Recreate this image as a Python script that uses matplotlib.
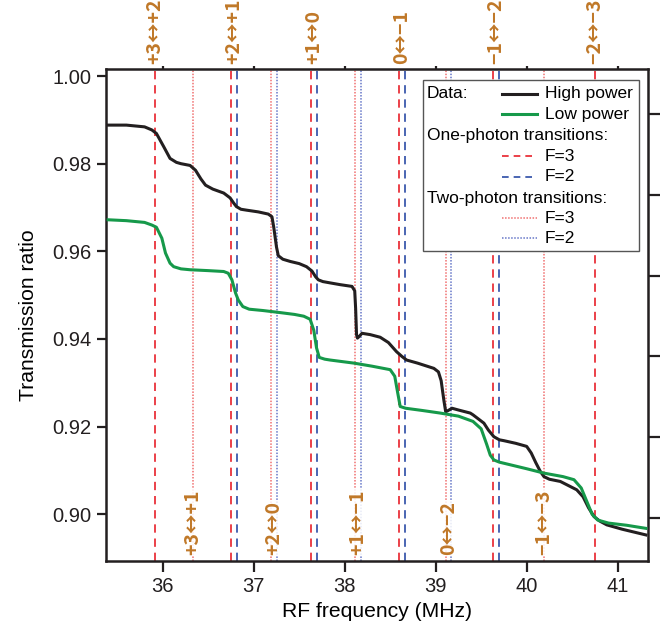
import matplotlib
matplotlib.use("Agg")
import matplotlib.pyplot as plt
from matplotlib.lines import Line2D
from matplotlib.patches import Rectangle
import matplotlib.transforms as mtransforms

plt.rcParams['font.family'] = ['Liberation Sans', 'DejaVu Sans']

# ---------------- data ----------------
hp_x = [35.39, 35.60, 35.80, 35.88, 35.93, 36.01, 36.08, 36.15, 36.20, 36.30, 36.36, 36.42,
        36.47, 36.55, 36.67, 36.74, 36.78, 36.81, 36.86, 36.92, 37.05, 37.16, 37.20, 37.22,
        37.25, 37.27, 37.32, 37.40, 37.50, 37.58, 37.64, 37.68, 37.71, 37.76, 37.84, 37.95,
        38.08, 38.11, 38.12, 38.13, 38.14, 38.16, 38.19, 38.28, 38.39, 38.48, 38.57, 38.63,
        38.68, 38.80, 38.98, 39.03, 39.06, 39.09, 39.11, 39.13, 39.18, 39.25, 39.38, 39.41,
        39.53, 39.58, 39.64, 39.70, 39.75, 39.88, 40.00, 40.05, 40.10, 40.15, 40.19, 40.25,
        40.37, 40.55, 40.62, 40.68, 40.74, 40.80, 40.88, 41.05, 41.31]
hp_y = [0.9888, 0.9888, 0.9884, 0.9877, 0.9869, 0.9839, 0.9812, 0.9803, 0.9800, 0.9796, 0.9785, 0.9765,
        0.9751, 0.9742, 0.9733, 0.9722, 0.9710, 0.9702, 0.9696, 0.9694, 0.9690, 0.9685, 0.9679, 0.9655,
        0.9610, 0.9590, 0.9582, 0.9577, 0.9572, 0.9565, 0.9555, 0.9542, 0.9535, 0.9531, 0.9528, 0.9524,
        0.9520, 0.9510, 0.9470, 0.9410, 0.9402, 0.9406, 0.9413, 0.9410, 0.9404, 0.9392, 0.9371, 0.9360,
        0.9352, 0.9345, 0.9333, 0.9325, 0.9305, 0.9260, 0.9234, 0.9236, 0.9242, 0.9238, 0.9231, 0.9227,
        0.9208, 0.9192, 0.9177, 0.9170, 0.9168, 0.9162, 0.9155, 0.9140, 0.9118, 0.9098, 0.9086, 0.9080,
        0.9075, 0.9056, 0.9040, 0.9015, 0.8995, 0.8985, 0.8976, 0.8966, 0.8953]

lp_x = [35.40, 35.60, 35.80, 35.88, 35.93, 35.99, 36.03, 36.08, 36.12, 36.20, 36.30, 36.50, 36.67,
        36.72, 36.76, 36.80, 36.83, 36.88, 36.95, 37.10, 37.30, 37.45, 37.55, 37.62, 37.66,
        37.69, 37.72, 37.78, 37.84, 38.10, 38.30, 38.50, 38.55, 38.58, 38.61, 38.67, 38.85,
        39.05, 39.25, 39.41, 39.50, 39.56, 39.60, 39.64, 39.70, 39.82, 40.00, 40.19, 40.40,
        40.52, 40.60, 40.66, 40.72, 40.78, 40.90, 41.10, 41.31]
lp_y = [0.9672, 0.9670, 0.9666, 0.9660, 0.9655, 0.9630, 0.9596, 0.9573, 0.9565, 0.9560, 0.9558, 0.9556, 0.9554,
        0.9550, 0.9535, 0.9505, 0.9489, 0.9474, 0.9468, 0.9465, 0.9460, 0.9456, 0.9452, 0.9445, 0.9420,
        0.9380, 0.9358, 0.9354, 0.9352, 0.9345, 0.9338, 0.9330, 0.9315, 0.9280, 0.9246, 0.9242, 0.9237,
        0.9231, 0.9224, 0.9212, 0.9195, 0.9160, 0.9135, 0.9124, 0.9119, 0.9113, 0.9104, 0.9094, 0.9086,
        0.9079, 0.9060, 0.9030, 0.9000, 0.8987, 0.8980, 0.8975, 0.8968]

one_photon_f3 = [35.915, 36.748, 37.631, 38.592, 39.630, 40.748]
one_photon_f2 = [36.814, 37.700, 38.658, 39.700]
two_photon_f3 = [36.330, 37.190, 38.115, 39.110, 40.190]
two_photon_f2 = [37.255, 38.175, 39.170]

top_labels = ["+3\u2194+2", "+2\u2194+1", "+1\u21940", "0\u2194\u22121", "\u22121\u2194\u22122", "\u22122\u2194\u22123"]
top_label_x = [35.915, 36.780, 37.665, 38.625, 39.665, 40.748]
bottom_labels = ["+3\u2194+1", "+2\u21940", "+1\u2194\u22121", "0\u2194\u22122", "\u22121\u2194\u22123"]
bottom_label_x = [36.330, 37.220, 38.145, 39.140, 40.190]

x_ticks = [36, 37, 38, 39, 40, 41]
y_ticks = [0.90, 0.92, 0.94, 0.96, 0.98, 1.00]
y_ticklabels = ["0.90", "0.92", "0.94", "0.96", "0.98", "1.00"]
right_ticks = [0, 1, 2, 3, 4, 5]

# ---------------- styles ----------------
c_black = '#231F20'
c_green = '#16994A'
c_red = '#E8202A'
c_blue = '#2B4BA6'
c_red_dot = '#F07070'
c_blue_dot = '#6677C8'
c_label = '#C07828'

fig = plt.figure(figsize=(6.67, 6.29), dpi=100)
ax = fig.add_axes([0.1585, 0.1086, 0.8125, 0.7812])

for xv in one_photon_f3:
    ax.axvline(xv, color=c_red, lw=1.2, ls=(0, (5, 3.5)), zorder=1)
for xv in one_photon_f2:
    ax.axvline(xv, color=c_blue, lw=1.2, ls=(0, (5, 3.5)), zorder=1)
for xv in two_photon_f3:
    ax.axvline(xv, color=c_red_dot, lw=1.1, ls=(0, (1, 1.0)), zorder=1)
for xv in two_photon_f2:
    ax.axvline(xv, color=c_blue_dot, lw=1.1, ls=(0, (1, 1.0)), zorder=1)

ax.plot(hp_x, hp_y, color=c_black, lw=2.2, zorder=3, solid_joinstyle='round')
ax.plot(lp_x, lp_y, color=c_green, lw=2.2, zorder=3, solid_joinstyle='round')

ax.set_xlim(35.373, 41.33)
ax.set_ylim(0.88942, 1.00153)
ax.set_xticks(x_ticks)
ax.set_xticklabels([str(t) for t in x_ticks])
ax.set_yticks(y_ticks)
ax.set_yticklabels(y_ticklabels)

for s in ['left', 'bottom', 'top', 'right']:
    ax.spines[s].set_linewidth(1.8)
    ax.spines[s].set_color(c_black)

ax.tick_params(axis='x', which='both', direction='out', length=8, width=1.6,
               labelsize=14.5, pad=4, top=True, colors=c_black)
ax.tick_params(axis='y', direction='out', length=6.5, width=1.6, labelsize=14.5, pad=4,
               colors=c_black)
for t in ax.xaxis.get_major_ticks():
    t.tick2line.set_markersize(2.5)

ax.set_xlabel("RF frequency (MHz)", fontsize=15.2, labelpad=4)
ax.set_ylabel("Transmission ratio", fontsize=15.2, labelpad=10)

# right-hand secondary axis (unlabelled ticks)
ax2 = ax.twinx()
ax2.set_ylim(-0.524, 5.549)
ax2.set_yticks(right_ticks)
ax2.set_yticklabels([])
ax2.tick_params(axis='y', direction='out', length=8.5, width=1.6, colors=c_black)
for s in ['left', 'bottom', 'top', 'right']:
    ax2.spines[s].set_visible(False)

# transition labels
lab_font = dict(family=['Noto Sans CJK SC', 'DejaVu Sans'], weight='bold', size=14)
trans_top = mtransforms.blended_transform_factory(ax.transData, ax.transAxes)
for lab, xv in zip(top_labels, top_label_x):
    ax.text(xv, 1.0, lab, transform=trans_top + mtransforms.ScaledTranslation(0, 5 / 100, fig.dpi_scale_trans),
            rotation=90, ha='center', va='bottom', color=c_label, fontproperties=lab_font,
            clip_on=False)
for lab, xv in zip(bottom_labels, bottom_label_x):
    ax.text(xv, 0.0, lab, transform=trans_top + mtransforms.ScaledTranslation(0, 6 / 100, fig.dpi_scale_trans),
            rotation=90, ha='center', va='bottom', color=c_label, fontproperties=lab_font, zorder=4,
            bbox=dict(boxstyle='square,pad=0.05', facecolor='white', edgecolor='none', alpha=0.85))

# manual legend
box = Rectangle((0.586, 0.630), 0.398, 0.348, transform=ax.transAxes, facecolor='white',
                edgecolor='#555555', lw=1.0, zorder=10)
ax.add_patch(box)
lfs = 12.5
x_head = 0.593
x_l0, x_l1, x_txt = 0.7306, 0.795, 0.810
ax.text(x_head, 0.950, "Data:", transform=ax.transAxes, fontsize=lfs, va='center', ha='left', zorder=11)
rows = [
    (0.950, c_black, '-', 2.2, "High power"),
    (0.909, c_green, '-', 2.2, "Low power"),
    (0.823, c_red, (0, (4, 3)), 1.2, "F=3"),
    (0.781, c_blue, (0, (4, 3)), 1.2, "F=2"),
    (0.697, c_red_dot, (0, (1, 1.0)), 1.1, "F=3"),
    (0.656, c_blue_dot, (0, (1, 1.0)), 1.1, "F=2"),
]
for yv, col, ls, lw, txt in rows:
    ax.add_line(Line2D([x_l0, x_l1], [yv, yv], transform=ax.transAxes, color=col, ls=ls, lw=lw, zorder=11))
    ax.text(x_txt, yv, txt, transform=ax.transAxes, fontsize=lfs, va='center', ha='left', zorder=11)
ax.text(x_head, 0.866, "One-photon transitions:", transform=ax.transAxes, fontsize=lfs,
        va='center', ha='left', zorder=11)
ax.text(x_head, 0.738, "Two-photon transitions:", transform=ax.transAxes, fontsize=lfs,
        va='center', ha='left', zorder=11)

fig.savefig("out.png", dpi=100)
